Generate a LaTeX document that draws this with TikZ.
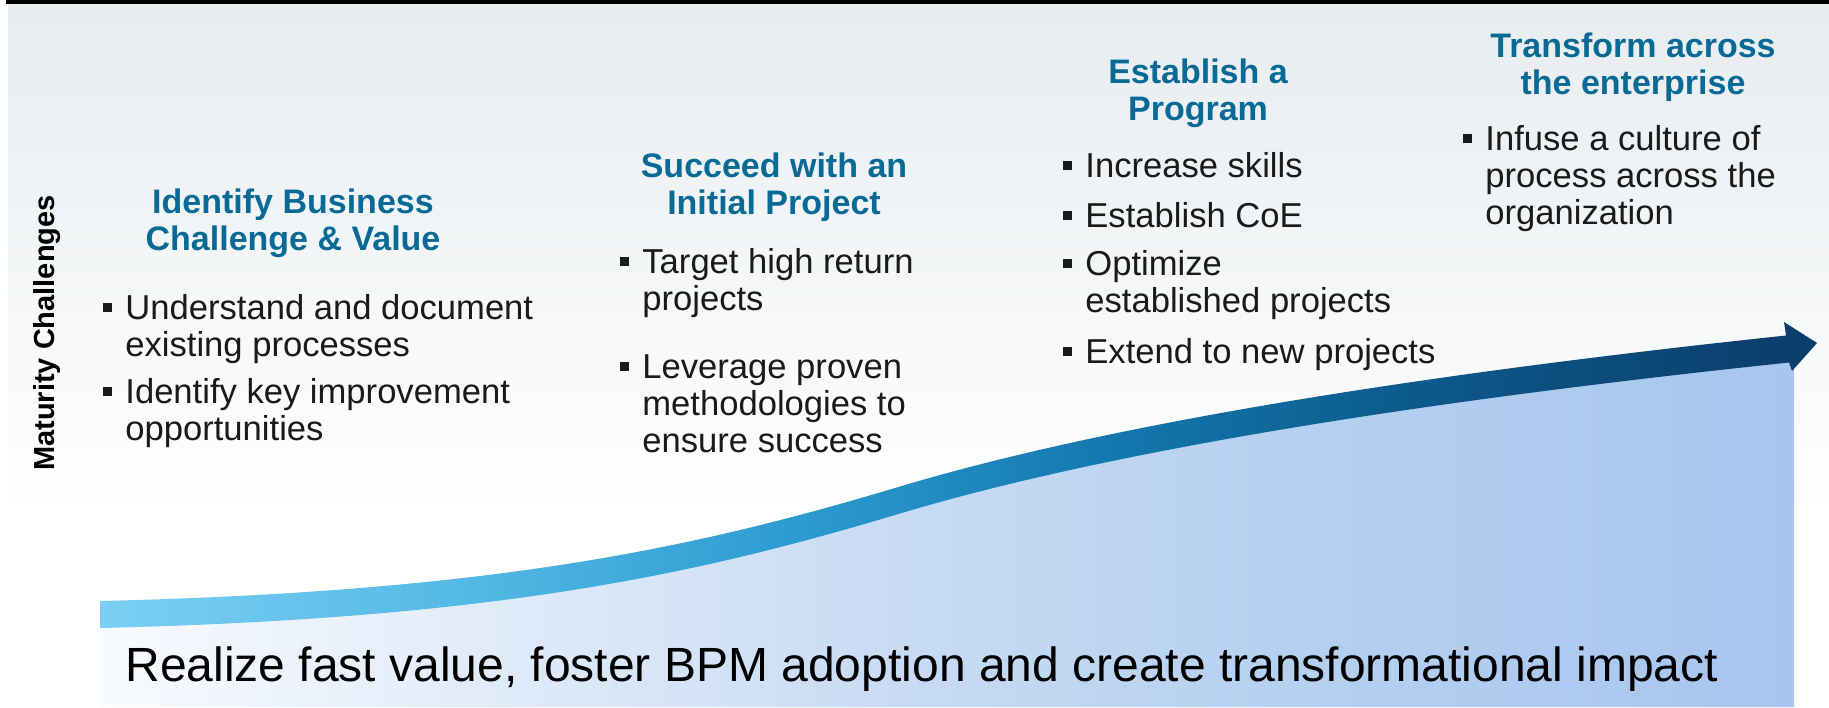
\documentclass[tikz,border=0pt]{standalone}
\usepackage{fontspec}
\setmainfont{Liberation Sans}
\definecolor{headblue}{RGB}{10,106,150}
\definecolor{txt}{RGB}{26,26,26}
\definecolor{panTop}{RGB}{231,236,239}
\definecolor{panMid}{RGB}{242,245,248}
\definecolor{a1}{HTML}{7CCFF3}
\definecolor{a2}{HTML}{55BAE6}
\definecolor{a3}{HTML}{2C9BD0}
\definecolor{a4}{HTML}{1479AF}
\definecolor{a5}{HTML}{0C5B8D}
\definecolor{a6}{HTML}{0B3C69}
\definecolor{f1}{HTML}{F8FAFE}
\definecolor{f2}{HTML}{E0EBF9}
\definecolor{f3}{HTML}{C8DBF3}
\definecolor{f4}{HTML}{B5D0F0}
\definecolor{f5}{HTML}{A7C5EE}
\pgfdeclarehorizontalshading{bandshade}{100bp}{color(0bp)=(a1); color(25bp)=(a1); color(35.2bp)=(a2); color(45.4bp)=(a3); color(54.1bp)=(a4); color(62.9bp)=(a5); color(75bp)=(a6); color(100bp)=(a6)}
\pgfdeclarehorizontalshading{fillshade}{100bp}{color(0bp)=(f1); color(25bp)=(f1); color(36.8bp)=(f2); color(48.6bp)=(f3); color(60.4bp)=(f4); color(75bp)=(f5); color(100bp)=(f5)}
\newcommand{\bul}{\llap{\rule[3.5pt]{4.5pt}{4.5pt}\hspace{6.5pt}}}
\tikzset{
  headtxt/.style={anchor=base, inner sep=0pt, text=headblue, font=\fontsize{17}{18.75}\selectfont\bfseries},
  itemtxt/.style={anchor=base west, inner sep=0pt, text=txt, font=\fontsize{17.3}{18.5}\selectfont},
}
\begin{document}
\begin{tikzpicture}[x=0.5pt,y=-0.5pt]
\useasboundingbox (0,0) rectangle (1829,707);
% background panel
\shade[top color=panTop, middle color=panMid, bottom color=white] (8,4) rectangle (1829,515);
\fill[black] (6,0) rectangle (1829,4);
% area under the curve
\path[shading=fillshade] (100,614.5) .. controls (500,605) and (700,560) .. (900,500)
  .. controls (1100,440) and (1400,390) .. (1787,349) -- (1794,348) -- (1794,707) -- (100,707) -- cycle;
% arrow band
\path[shading=bandshade] (100,601) .. controls (500,591.5) and (700,546.5) .. (900,486.5)
  .. controls (1100,426.5) and (1400,376.5) .. (1786,335.5)
  -- (1784,322) -- (1817,343) -- (1792,371) -- (1789,362.5)
  .. controls (1400,403.5) and (1100,453.5) .. (900,513.5)
  .. controls (700,573.5) and (500,618.5) .. (100,628) -- cycle;
% side label
\node[rotate=90, inner sep=0pt, font=\fontsize{14.5}{16}\selectfont\bfseries] (mat) at (47,333) {Maturity Challenges};
% headings
\node[headtxt] (h1) at (293,213) {\begin{tabular}[t]{@{}c@{}}Identify Business\\Challenge \& Value\end{tabular}};
\node[headtxt] (h2) at (774,177) {\begin{tabular}[t]{@{}c@{}}Succeed with an\\Initial Project\end{tabular}};
\node[headtxt] (h3) at (1198,83) {\begin{tabular}[t]{@{}c@{}}Establish a\\Program\end{tabular}};
\node[headtxt] (h4) at (1633,57) {\begin{tabular}[t]{@{}c@{}}Transform across\\the enterprise\end{tabular}};
% items
\node[itemtxt] (i11) at (125,319) {\begin{tabular}[t]{@{}l@{}}\bul Understand and document\\existing processes\end{tabular}};
\node[itemtxt] (i12) at (125,403) {\begin{tabular}[t]{@{}l@{}}\bul Identify key improvement\\opportunities\end{tabular}};
\node[itemtxt] (i21) at (642,273) {\begin{tabular}[t]{@{}l@{}}\bul Target high return\\projects\end{tabular}};
\node[itemtxt] (i22) at (642,378) {\begin{tabular}[t]{@{}l@{}}\bul Leverage proven\\methodologies to\\ensure success\end{tabular}};
\node[itemtxt] (i31) at (1085,177) {\begin{tabular}[t]{@{}l@{}}\bul Increase skills\end{tabular}};
\node[itemtxt] (i32) at (1085,227) {\begin{tabular}[t]{@{}l@{}}\bul Establish CoE\end{tabular}};
\node[itemtxt] (i33) at (1085,275) {\begin{tabular}[t]{@{}l@{}}\bul Optimize\\established projects\end{tabular}};
\node[itemtxt] (i34) at (1085,363) {\begin{tabular}[t]{@{}l@{}}\bul Extend to new projects\end{tabular}};
\node[itemtxt] (i41) at (1485,150) {\begin{tabular}[t]{@{}l@{}}\bul Infuse a culture of\\process across the\\organization\end{tabular}};
% bottom caption
\node[anchor=base west, inner sep=0pt, text=black, font=\fontsize{24}{28}\selectfont] (cap) at (125,681) {Realize fast value, foster BPM adoption and create transformational impact};
\end{tikzpicture}
\end{document}
